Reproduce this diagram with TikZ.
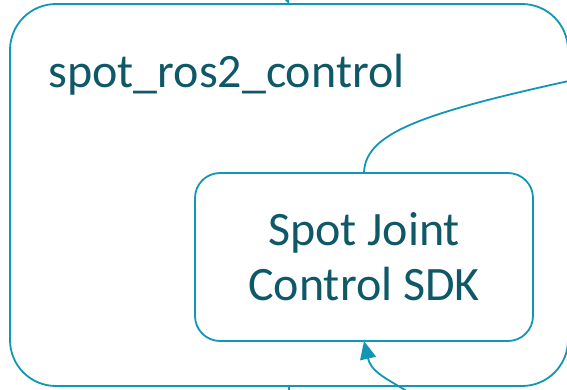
\documentclass[tikz,border=0pt]{standalone}
\usepackage{fontspec}
\setmainfont{Carlito}
\usepackage{tikz}
\usetikzlibrary{
	positioning,
	arrows.meta
}
\definecolor{spotline}{RGB}{17,151,181}
\definecolor{spottext}{RGB}{14,88,104}

\begin{document}
\begin{tikzpicture}[x=1pt,y=-1pt,
		font=\fontsize{48}{55}\selectfont,
		box/.style={draw=spotline,line width=1.8pt,rectangle,outer sep=0pt,inner sep=0pt,text=spottext},
		link/.style={draw=spotline,line width=1.8pt},
		flow/.style={link,-{Triangle[length=18pt,width=16pt]}}
	]
		\useasboundingbox (0,0) rectangle (567,389);
		\draw
			node[box,rounded corners=46pt,minimum width=558pt,minimum height=382pt] (ctrl) at (289,195) {}
			node[text=spottext,anchor=base west] (ctrlname) at (45,87) {spot\_ros2\_control}
			node[box,rounded corners=25pt,minimum width=338pt,minimum height=168pt,align=center,
				below right=169pt and 185pt of ctrl.north west] (sdk) {Spot Joint\\Control SDK}

			coordinate (intop)    at (272,-40)
			coordinate (outbot)   at (290,430)
			coordinate (toright)  at (620,70)
			coordinate (fromleft) at (435,415)

			(intop)      edge[flow]                (ctrl.north)
			(ctrl.south) edge[link]                (outbot)
			(fromleft)   edge[flow,out=130,in=-77] (sdk.south)
		;
		\draw[link] (sdk.north) .. controls (365,130) and (430,110) .. (toright);
	\end{tikzpicture}
\end{document}
